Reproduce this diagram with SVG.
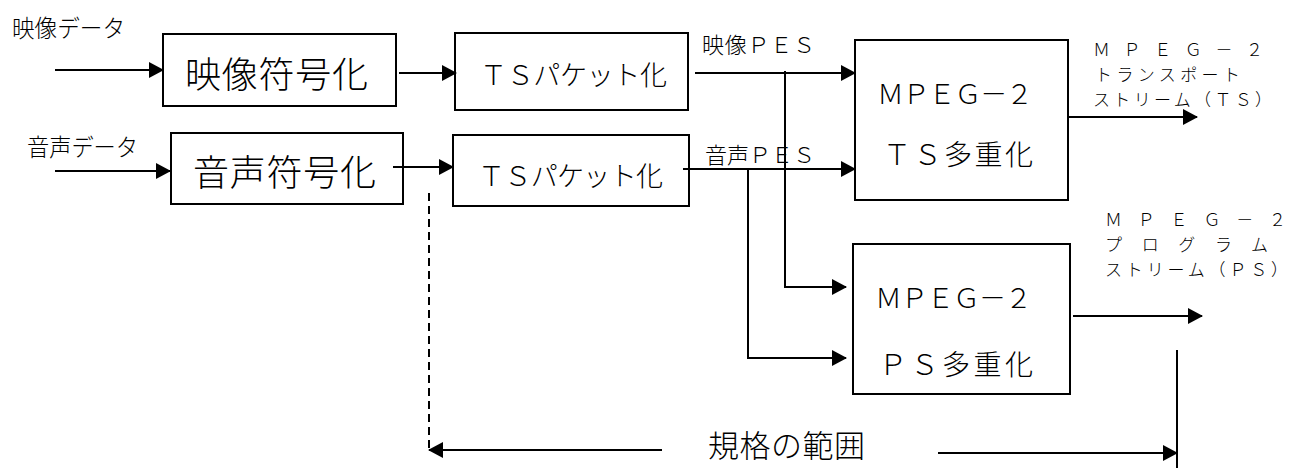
<svg xmlns="http://www.w3.org/2000/svg" width="1293" height="468" viewBox="0 0 1293 468">
<style>
  .box{fill:#fff;stroke:#000;stroke-width:2}
  .ln{fill:none;stroke:#000;stroke-width:2}
  .arr{marker-end:url(#ah)}
  .dash{fill:none;stroke:#000;stroke-width:2;stroke-dasharray:8,5}
  text{font-family:"Noto Sans CJK JP","Liberation Serif",serif;fill:#000;font-weight:300}
  .out{font-size:17px}
</style>
<defs>
  <marker id="ah" markerUnits="userSpaceOnUse" markerWidth="15" markerHeight="16" refX="14" refY="8" orient="auto">
    <path d="M0,0 L15,8 L0,16 z" fill="#000"/>
  </marker>
</defs>

<g id="labels">
  <text x="12" y="37" font-size="24" textLength="113" lengthAdjust="spacingAndGlyphs">映像データ</text>
  <text x="27" y="156" font-size="24" textLength="111" lengthAdjust="spacingAndGlyphs">音声データ</text>
  <text x="702" y="53" font-size="22" textLength="113">映像ＰＥＳ</text>
  <text x="705" y="163" font-size="22" textLength="110">音声ＰＥＳ</text>
  <text class="out" x="1093" y="56" textLength="170">ＭＰＥＧ－２</text>
  <text class="out" x="1095" y="81" textLength="145">トランスポート</text>
  <text class="out" x="1093" y="106" textLength="179">ストリーム（ＴＳ）</text>
  <text class="out" x="1105" y="226" textLength="181">ＭＰＥＧ－２</text>
  <text class="out" x="1105" y="251" textLength="163">プログラム</text>
  <text class="out" x="1105" y="276" textLength="183">ストリーム（ＰＳ）</text>
  <text x="708" y="457" font-size="31" textLength="157">規格の範囲</text>
</g>

<g id="node-video-enc">
  <rect class="box" x="163" y="34" width="233" height="72"/>
  <text x="185" y="88" font-size="36" textLength="183">映像符号化</text>
</g>
<g id="node-audio-enc">
  <rect class="box" x="171" y="133" width="232" height="71"/>
  <text x="193" y="186" font-size="36" textLength="183">音声符号化</text>
</g>
<g id="node-ts-packet-video">
  <rect class="box" x="455" y="33" width="233" height="77"/>
  <text x="480" y="85" font-size="27" textLength="187">ＴＳパケット化</text>
</g>
<g id="node-ts-packet-audio">
  <rect class="box" x="453" y="135" width="236" height="71"/>
  <text x="478" y="186" font-size="27" textLength="185">ＴＳパケット化</text>
</g>
<g id="node-ts-mux">
  <rect class="box" x="855" y="40" width="213" height="160"/>
  <text x="877" y="104" font-size="27" textLength="156">ＭＰＥＧ－２</text>
  <text x="883" y="165" font-size="28" textLength="150">ＴＳ多重化</text>
</g>
<g id="node-ps-mux">
  <rect class="box" x="853" y="244" width="217" height="150"/>
  <text x="875" y="308" font-size="27" textLength="157">ＭＰＥＧ－２</text>
  <text x="879" y="375" font-size="28" textLength="154">ＰＳ多重化</text>
</g>

<g id="connectors">
  <path class="ln arr" d="M55,70 H163"/>
  <path class="ln arr" d="M55,171 H170"/>
  <path class="ln arr" d="M399,73 H456"/>
  <path class="ln arr" d="M393,167 H453"/>
  <path class="ln arr" d="M695,73 H855"/>
  <path class="ln arr" d="M785,71 V287 H846"/>
  <path class="ln arr" d="M683,169 H855"/>
  <path class="ln arr" d="M748,169 V358 H846"/>
  <path class="ln arr" d="M1068,117 H1197"/>
  <path class="ln arr" d="M1073,316 H1202"/>
  <path class="dash" d="M429,193 V450"/>
  <path class="ln arr" d="M662,450 H429"/>
  <path class="ln arr" d="M938,453 H1177"/>
  <path class="ln" d="M1177,350 V468"/>
</g>
</svg>
